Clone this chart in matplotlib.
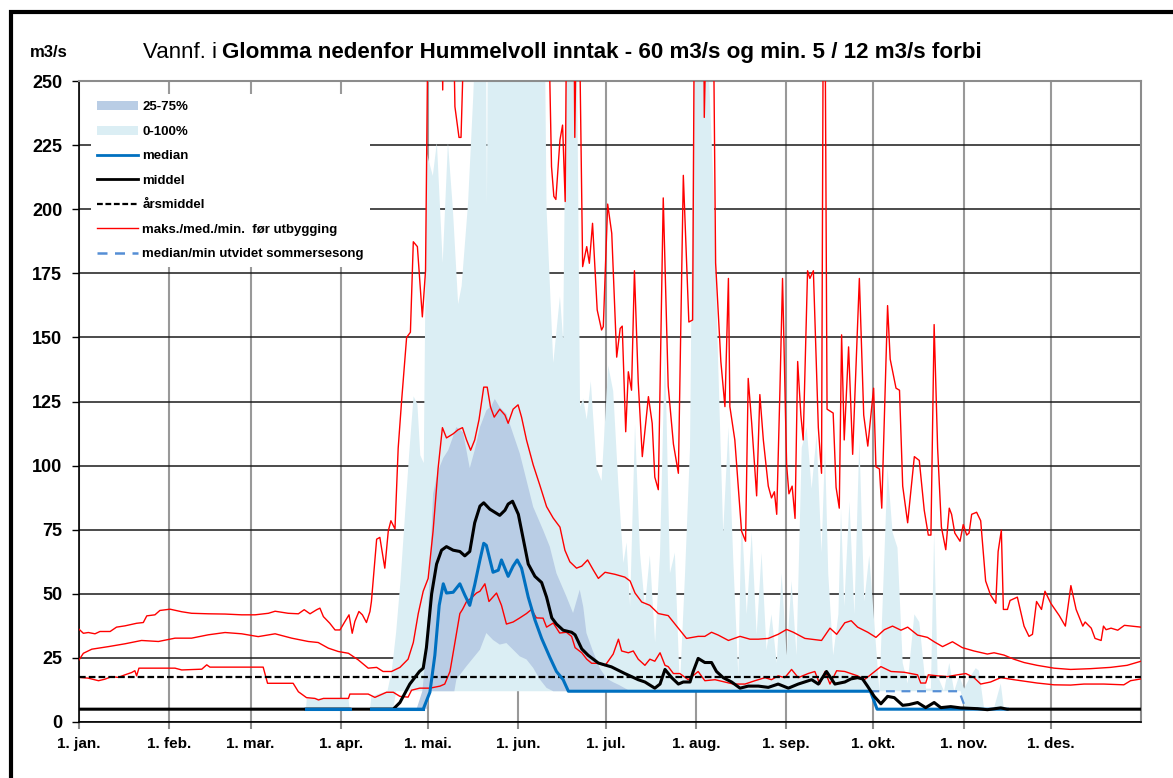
import numpy as np
import matplotlib.pyplot as plt
from matplotlib.patches import Patch, Rectangle
from matplotlib.lines import Line2D

plt.rcParams['font.family'] = ['Liberation Sans', 'DejaVu Sans']

# x = day of year (0 = 1. jan.), y = m3/s
month_days = [0, 31, 59, 90, 120, 151, 181, 212, 243, 273, 304, 334]
month_labels = ['1. jan.', '1. feb.', '1. mar.', '1. apr.', '1. mai.', '1. jun.',
                '1. jul.', '1. aug.', '1. sep.', '1. okt.', '1. nov.', '1. des.']
y_ticks = [0, 25, 50, 75, 100, 125, 150, 175, 200, 225, 250]

aarsmiddel = 17.5

# 0-100 % band, two spans (spring patch + main season)
q100_a = np.array([(78, 5), (78.3, 9.2), (92.6, 9.2), (93, 5)])
q0_a = np.array([(78, 5), (93, 5)])
q100_b = np.array([
    (100, 5), (100.5, 10), (103, 11), (106, 12), (107.5, 20), (109, 35), (110.5, 55),
    (112, 80), (113.5, 105), (115, 127), (116.3, 124), (117.3, 104), (118.5, 101),
    (119.5, 222), (121.6, 213), (123, 226), (125, 179), (126.8, 226), (128.5, 200),
    (130.3, 163), (131.5, 170), (133.7, 202), (135.5, 244), (136.7, 280), (139.8, 280),
    (140.2, 201), (140.6, 280), (160, 280), (160.7, 200), (163, 140), (165.3, 166),
    (166.4, 149), (167.6, 280), (171, 280), (172.2, 123), (173.3, 126), (174.5, 118),
    (175.9, 133), (177.9, 99), (179.6, 94), (181.9, 139), (183.6, 129), (185.4, 92),
    (187.1, 62), (188.2, 70), (189.4, 45), (191.1, 116), (192.8, 66), (194.5, 45),
    (196.2, 65), (198, 31), (199.7, 66), (201.4, 147), (203.1, 58), (204.8, 66),
    (206.5, 13), (208.3, 58), (210, 107), (211.5, 280), (214.5, 280), (215, 235),
    (215.5, 280), (218, 211), (219.7, 139), (221.4, 74), (223.2, 115), (224.9, 62),
    (226.6, 18), (227.7, 81), (229.5, 42), (231.2, 74), (232.9, 34), (234.6, 66),
    (236.3, 28), (238, 42), (239.8, 23), (241.5, 58), (243.2, 26), (244.9, 55),
    (246.6, 26), (248.4, 107), (250.1, 115), (251.8, 91), (253.5, 112), (255.2, 66),
    (256.4, 107), (257.5, 58), (259.2, 26), (261, 42), (261.9, 83), (263, 45),
    (264.8, 86), (266.5, 42), (268.2, 110), (269.9, 47), (271.6, 65), (273.3, 39),
    (275.1, 12), (277.9, 99), (279.6, 74), (281.3, 68), (283.1, 23), (284.8, 15),
    (287.1, 42), (288.8, 39), (291.1, 13), (292.8, 13), (293.9, 74), (295.1, 18),
    (297.3, 12), (299.1, 23), (300.8, 12), (302.5, 18), (304.2, 13), (306.5, 18),
    (308.2, 21), (309.3, 20), (311.1, 5), (314.5, 5.5), (316.8, 15), (317.9, 5), (319, 5)])
q0_b = np.array([(100, 5), (108, 5), (109, 12), (303, 12), (304.5, 5), (319, 5)])

# 25-75 % band
q75 = np.array([
    (116, 5), (118, 12), (119.5, 30), (120.6, 60), (121.7, 89), (123.4, 98), (125.2, 103),
    (126.9, 106), (129.7, 115), (132, 113), (134.3, 99), (136, 106), (137.8, 115),
    (140, 121.5), (141.8, 123.4), (142.9, 126), (144.6, 122.8), (146.9, 120.2),
    (149.2, 112.4), (151.5, 104.7), (153.8, 94.3), (156.1, 83.9), (159.5, 74.9),
    (161.8, 68.4), (164.1, 58), (167.5, 49), (169.8, 42.5), (172.1, 51.6), (173.3, 45),
    (174.4, 34.7), (176.5, 28), (179, 21), (181.3, 17), (183.6, 15.5), (185.5, 14.5),
    (189.5, 12)])
q25 = np.array([
    (116, 5), (119.5, 5), (120.5, 12), (129, 12), (129.7, 16.6), (133.2, 21.8),
    (137.8, 28.2), (140, 34.7), (142.3, 32), (144.6, 30.2), (146.9, 30.8), (149.2, 28.2),
    (151.5, 25.6), (153.8, 24.4), (156.1, 21.1), (158.4, 16.6), (160.7, 13.3), (163, 12),
    (189.5, 12)])

median = np.array([
    (78, 5), (93, 5), (96, np.nan), (100.5, 5), (118.3, 5), (120.6, 11.6), (122.3, 26),
    (123.8, 45.5), (125.2, 53.9), (126.3, 50.3), (128.6, 50.6), (130.9, 53.9),
    (132.6, 49.5), (134.3, 45.5), (136, 53.5), (137.8, 63.2), (139.1, 69.7), (140, 68.9),
    (142.3, 58.4), (144.1, 59.2), (145.2, 63.2), (147.5, 56.8), (149.2, 60.8),
    (150.6, 63.2), (152.1, 60), (154.4, 48.7), (156.7, 39.8), (159, 32.6), (161.8, 25.3),
    (164.1, 19.7), (166.4, 16.5), (168.2, 12), (272, 12), (274.3, 5), (319, 5)])

utvidet = np.array([(272, 12), (302.5, 12), (304.8, 5)])

middel = np.array([
    (0, 5), (108, 5), (110.3, 7.6), (113.7, 14.8), (117, 19.7), (118.3, 21), (119.4, 29),
    (121.2, 50), (122.9, 61.6), (124.6, 67), (126.3, 68.4), (128.6, 67), (130.9, 66.5),
    (132.6, 64.8), (134.3, 66.5), (136, 77.7), (137.8, 84.2), (139.1, 85.5), (141.2, 83),
    (144.6, 80.6), (146.4, 82.6), (147.5, 85), (149, 86.1), (151, 81), (152.7, 71.3),
    (154.4, 61.6), (156.7, 56.8), (159, 54.4), (160.7, 48.7), (162.5, 40.6),
    (164.1, 38.2), (166.4, 35.8), (169.3, 35), (170.5, 34), (172.8, 28.5), (175, 26),
    (178.5, 23), (183, 21.5), (187.6, 18.9), (192.2, 16.5), (194.5, 15.6), (197.9, 13.2),
    (199.7, 14.8), (201.4, 20.5), (203.7, 17.3), (206, 14.8), (207.7, 15.6), (210, 15.6),
    (211.1, 19.7), (212.8, 24.8), (215.1, 23.2), (217.4, 23.2), (219.1, 19.7),
    (221.4, 17.3), (224.3, 15.6), (227.2, 13.2), (230, 14), (233.5, 14), (236.9, 13.5),
    (240.3, 14.8), (243.8, 13.2), (247.2, 14.8), (251.8, 16.5), (254.1, 14.8),
    (256.9, 19.7), (259.8, 14.8), (263.2, 15.6), (265.3, 16.8), (267.6, 17.3),
    (269.3, 16.8), (271, 14), (273.3, 10), (275.6, 7.1), (277.9, 10), (280.2, 9.5),
    (283.1, 6.5), (285.3, 6.8), (288.2, 7.6), (291, 5.6), (293.9, 7.6), (296.2, 5.6),
    (299.6, 6), (303, 5.5), (308.8, 5.2), (312.2, 4.8), (316.8, 5.5), (319, 5), (365, 5)])

# before regulation: max / median / min
foer_maks = np.array([
    (0, 36.2), (1.5, 34.6), (3.2, 34.9), (5.5, 34.4), (7.2, 35.3), (10.7, 35.3), (12.9, 37),
    (15.8, 37.5), (19.8, 38.5), (22.1, 38.8), (23.3, 41.4), (26.1, 41.8), (27.8, 43.5),
    (31.3, 44), (35.3, 43), (38.7, 42.4), (44.4, 42.2), (50.2, 42.1), (55.9, 41.8),
    (60.5, 41.8), (65.1, 42.4), (67.4, 43.2), (71.9, 42.4), (75.4, 42.2), (77.4, 43.8),
    (79.4, 42.2), (81.7, 43.8), (82.8, 44.4), (84, 41.1), (86.2, 38.5), (88, 35.9),
    (89.7, 35.9), (91.4, 39.2), (92.8, 41.8), (93.9, 34.6), (94.8, 39.2), (96.2, 43.1),
    (97.4, 41.8), (98.8, 38.8), (100, 43.1), (100.5, 47), (102.3, 71.3), (103.4, 72),
    (105.1, 60), (106.3, 74.5), (107.2, 78.5), (108.6, 75.3), (109.7, 106.8),
    (110.9, 125.6), (112.6, 150), (113.9, 152), (114.9, 187.3), (116.3, 185.4),
    (118, 158), (119.1, 176), (120, 280), (124.7, 280), (125, 246.5), (125.3, 280),
    (128.6, 280), (129.2, 240), (130.6, 228), (131.3, 228), (132.6, 280), (161.3, 280),
    (162.4, 216.6), (163.2, 205), (163.9, 203.8), (165.3, 227), (166.2, 232.8),
    (167.1, 203), (167.6, 280), (170.1, 280), (170.4, 228), (171, 280), (171.9, 280),
    (173.1, 177.6), (174.5, 185.4), (175.4, 178.9), (176.5, 194.5), (178.1, 160.7),
    (179.6, 152.9), (180.2, 154.2), (181.7, 202), (183.1, 190.6), (184.8, 142.3),
    (186, 153.5), (186.7, 154.4), (187.9, 113.2), (188.8, 136.6), (189.9, 129.4),
    (190.9, 176), (192.2, 132.6), (193.6, 103.5), (195.7, 126.9), (197, 116.5),
    (197.9, 95.5), (199.1, 90.6), (200.8, 204.4), (202.5, 131), (204.3, 108.4),
    (206, 97), (207.7, 213.2), (209.6, 156), (210.9, 156.8), (211.5, 280), (214.7, 280),
    (214.9, 235.8), (215.7, 280), (218, 280), (218.8, 179), (220.6, 140.6), (222, 123),
    (223.2, 173), (223.7, 123), (225.4, 110), (227.7, 74.5), (229.1, 70.5), (230, 134),
    (231.2, 116.5), (232.9, 88.2), (234, 127.7), (235.2, 110), (236.9, 92), (238, 87.4),
    (239, 89.8), (239.8, 81), (240.9, 129.4), (241.8, 173), (243.2, 100.3), (244, 89),
    (245.1, 92), (246.1, 79.4), (247, 140.6), (248.1, 119.7), (248.9, 110),
    (250.4, 176), (251.2, 173), (252.4, 176), (254.1, 114.8), (255.2, 97), (255.8, 280),
    (256.4, 280), (257.1, 122), (259.2, 120.5), (260.2, 91.5), (261.3, 83.4),
    (262.1, 151), (263, 110), (264.5, 146.3), (265.9, 104.4), (268.2, 173),
    (269.7, 119.7), (271.1, 107.6), (273.1, 130.2), (273.9, 99.5), (275.1, 98.7),
    (275.9, 83.4), (277.9, 162.4), (278.8, 141.5), (280.8, 130.2), (282, 129.4),
    (283.1, 92), (284.8, 77.7), (287.1, 103.5), (288.8, 102), (290.5, 82.6),
    (291.9, 72.9), (292.8, 72.9), (293.9, 155), (295.1, 106.8), (296.4, 76),
    (297.9, 67.2), (299.1, 83.4), (299.9, 81), (301, 73.7), (302.8, 70.5), (303.9, 77),
    (305.1, 72.9), (305.9, 73.7), (306.8, 81), (308.5, 81.8), (309.9, 78.5),
    (311.6, 55), (313.3, 49.5), (315.1, 46.3), (315.9, 66.5), (317, 74.8),
    (317.7, 43.9), (319.1, 43.9), (320, 47.4), (322.5, 48.7), (324.8, 37.4),
    (326.5, 33.4), (327.7, 34.2), (329.1, 47), (330.8, 43.9), (332, 51), (334, 46.3),
    (336.9, 41.5), (339, 37.4), (340.9, 53.2), (342.7, 43.9), (345, 37.4), (345.8, 39),
    (347.9, 36.6), (349.2, 32.6), (351.3, 31.8), (352.1, 37.4), (353, 36),
    (354.7, 36.6), (357, 35.8), (359.3, 37.7), (361.6, 37.4), (365, 37)])

foer_med = np.array([
    (0, 24.2), (1.5, 26.8), (4.4, 28.4), (10.1, 29.4), (15.8, 30.5), (21.5, 31.8),
    (27.3, 31.4), (33, 32.7), (38.7, 32.7), (44.4, 34), (50.2, 34.9), (55.9, 34.4),
    (61.6, 33.3), (67.4, 34.4), (73.1, 32.7), (78.8, 31.4), (82.2, 31), (85.7, 28.8),
    (89.1, 27.5), (92.6, 26.8), (96, 24.2), (99.4, 21), (102.3, 21.3), (104.5, 19.7),
    (107.4, 19.7), (110.3, 21.3), (113.1, 24.5), (114.9, 31), (116.6, 42.3), (118.3, 51),
    (120, 56), (121.7, 74.5), (123.4, 98.7), (124.9, 114.8), (126.3, 110.8),
    (128.6, 112.4), (130.3, 114), (131.8, 114.8), (133.2, 110), (134.6, 106), (136, 110),
    (137.5, 118), (139.1, 130.6), (140.3, 130.6), (141.4, 123), (142.7, 118.9),
    (144.6, 122), (146.4, 119.7), (147.5, 116.5), (149.2, 122), (150.9, 123.7),
    (152.1, 118.9), (153.8, 110), (156.1, 100.3), (158.4, 92.3), (160.7, 84),
    (163, 79.5), (165.3, 76), (167, 67), (168.7, 62.5), (171, 60), (172.8, 60.8),
    (174.8, 63.2), (176.8, 59.2), (178.5, 56), (180.8, 58.4), (184.2, 57.6),
    (187.6, 56.5), (189.4, 55), (191.1, 50.3), (193.4, 46.8), (196.2, 45.5),
    (199.1, 42.3), (202.5, 41.5), (205.4, 37.4), (208.8, 32.6), (212.8, 33.4),
    (215.1, 33.4), (217.4, 35), (219.7, 33.9), (223.2, 31.8), (227.2, 33.4),
    (230.6, 32.3), (233.5, 32.3), (236.9, 32.6), (240.3, 34.2), (243.2, 36.1),
    (245.5, 35), (249.5, 32.6), (255.2, 31.8), (258.1, 36.6), (260.4, 34.2),
    (263.2, 38.7), (265.4, 39.5), (267.6, 37), (271.1, 35), (273.9, 33), (276.8, 36),
    (279.6, 37.4), (282.5, 35.8), (284.8, 37), (288.2, 33.9), (291.6, 33), (293.9, 31.3),
    (296.8, 29.4), (300.2, 31.3), (303.6, 29), (307.6, 27.7), (312.2, 26.5), (314.5, 27),
    (317.9, 26.1), (321.3, 24.5), (324.8, 23.2), (329.3, 22.1), (335.1, 21),
    (340.8, 20.5), (347.6, 20.8), (354.5, 21.3), (360.2, 22.1), (365, 23.7)])

foer_min = np.array([
    (0, 17.4), (3.2, 17.1), (6.7, 16.1), (8.9, 16.7), (11.2, 17.7), (13.5, 17.4),
    (15.8, 18.4), (18.1, 19.3), (19.2, 20), (19.8, 18), (20.6, 21), (33, 21),
    (35.3, 20.3), (42.2, 20.6), (43.9, 22.3), (45, 21.4), (63.3, 21.4), (64.8, 15.1),
    (73.6, 15.1), (75.4, 11.8), (78.2, 9.5), (81.1, 9.2), (82.3, 8.6), (84, 9.2),
    (92.6, 9.2), (93.1, 10.9), (99.4, 10.9), (101.7, 9.6), (105.7, 11.6), (108, 11.6),
    (110.3, 10), (113.1, 9.7), (114.3, 12.4), (117.1, 13.2), (120.6, 13.2), (124.1, 14),
    (125.7, 14.8), (127.5, 19.7), (129.2, 31), (130.9, 42.3), (131.8, 43.9),
    (133.2, 47), (134.9, 48.4), (136.6, 50.3), (137.8, 51), (139.5, 53.9), (140.9, 47),
    (143.5, 50.3), (145.2, 45.5), (146.9, 38.2), (149.2, 39), (151.5, 40.6),
    (153.8, 42.3), (155.5, 43.9), (157.2, 40.6), (159.5, 40.5), (160.7, 37),
    (163, 38.6), (165.2, 34.7), (167.5, 35), (169.3, 33.4), (170.5, 29), (172.8, 27),
    (174.5, 24.5), (176.2, 22.9), (178.5, 22.9), (180.8, 22), (183.6, 26.5),
    (185.4, 32.3), (186.5, 27.7), (188.8, 27), (190.5, 27.7), (192.2, 24.5),
    (194.5, 22.1), (196.2, 24.5), (197.9, 23.7), (199.7, 27), (201.4, 22.1),
    (202.5, 21.6), (204.3, 18.9), (206.5, 18.9), (209.4, 16.5), (212.8, 19.7),
    (215.1, 16.1), (218.6, 16.5), (222, 15.6), (224.9, 14.8), (228.9, 14.8),
    (232.3, 16.1), (235.8, 17.3), (238, 16.5), (240.3, 18), (242.6, 17.3),
    (244.9, 20.5), (247.2, 17.3), (250.6, 18.9), (252.9, 19.7), (254.6, 14.8),
    (256.4, 19.7), (258.1, 14.8), (260.4, 20), (263.2, 19.7), (267.6, 18),
    (269.9, 16.5), (271.6, 18), (275.6, 21.6), (279.1, 19.7), (283.6, 19.4),
    (288.2, 18.4), (289.3, 15.2), (291, 15.2), (291.9, 18.4), (295.1, 18), (298.5, 17.7),
    (301.9, 18.4), (304.8, 18.9), (307.6, 17.3), (309.9, 14.8), (313.3, 15.6),
    (316.8, 17.3), (321.3, 16.5), (329.3, 15.2), (335.1, 14.5), (340.8, 14.4),
    (345.4, 14.8), (352.2, 14.8), (359.1, 14.5), (361.4, 16.1), (365, 16.8)])

c_light = '#dbeef4'
c_dark = '#b9cde5'
c_median = '#0070c0'
c_utvidet = '#558ed5'


def band(ax, hi, lo, color, z):
    xs = np.r_[hi[:, 0], lo[::-1, 0]]
    ys = np.r_[hi[:, 1], lo[::-1, 1]]
    ax.fill(xs, ys, color=color, lw=0, zorder=z)


fig = plt.figure(figsize=(11.73, 7.78), dpi=100)
ax = fig.add_axes([79 / 1173, 56 / 778, 1062 / 1173, 641 / 778])

band(ax, q100_a, q0_a, c_light, 1)
band(ax, q100_b, q0_b, c_light, 1)
band(ax, q75, q25, c_dark, 2)

ax.plot(foer_maks[:, 0], foer_maks[:, 1], color='red', lw=1.0, zorder=3)
ax.plot(foer_med[:, 0], foer_med[:, 1], color='red', lw=1.0, zorder=3)
ax.plot(foer_min[:, 0], foer_min[:, 1], color='red', lw=1.0, zorder=3)

ax.axhline(aarsmiddel, color='black', lw=1.6, ls=(0, (3, 1.4)), zorder=4)
ax.plot(utvidet[:, 0], utvidet[:, 1], color=c_utvidet, lw=1.6, ls=(0, (4, 3)), zorder=4)

ax.plot(median[:, 0], median[:, 1], color=c_median, lw=2.2, zorder=5)
ax.plot(middel[:, 0], middel[:, 1], color='black', lw=2.2, zorder=6)
spring = median[:, 0] < 119
ax.plot(median[spring, 0], median[spring, 1], color=c_median, lw=2.2, zorder=7)

ax.set_xlim(0, 365)
ax.set_ylim(0, 250)
ax.set_xticks(month_days)
ax.set_xticklabels(month_labels, fontsize=11, fontweight='bold')
ax.set_yticks(y_ticks)
ax.set_yticklabels([str(v) for v in y_ticks], fontsize=13, fontweight='bold')
ax.tick_params(axis='x', length=5, width=1.5, color='#8c8c8c', pad=6)
ax.tick_params(axis='y', length=5, width=1, color='black', pad=7)

ax.set_axisbelow(True)
ax.grid(axis='y', color='#1a1a1a', lw=1.1)
ax.grid(axis='x', color='#999999', lw=1.5)
for s in ['top', 'right']:
    ax.spines[s].set_color('#8c8c8c')
    ax.spines[s].set_linewidth(1.5)
for s in ['left', 'bottom']:
    ax.spines[s].set_color('black')
    ax.spines[s].set_linewidth(1.2)

handles = [
    Patch(facecolor=c_dark, edgecolor='none'),
    Patch(facecolor=c_light, edgecolor='none'),
    Line2D([], [], color=c_median, lw=2.0),
    Line2D([], [], color='black', lw=2.0),
    Line2D([], [], color='black', lw=1.6, ls=(0, (2.6, 1.2))),
    Line2D([], [], color='red', lw=1.0),
    Line2D([], [], color=c_utvidet, lw=1.8, ls=(0, (4, 3))),
]
labels = ['25-75%', '0-100%', 'median', 'middel', 'årsmiddel',
          'maks./med./min.  før utbygging', 'median/min utvidet sommersesong']
leg = ax.legend(handles, labels, loc='upper left', bbox_to_anchor=(0.011, 0.979),
                borderaxespad=0, frameon=True, fancybox=False, framealpha=1,
                edgecolor='none', facecolor='white', prop={'size': 9.5, 'weight': 'bold'},
                handlelength=3.1, handleheight=0.7, handletextpad=0.3,
                labelspacing=0.93, borderpad=0.5)
leg.set_zorder(10)

fig.text(30 / 1173, 1 - 57 / 778, 'm3/s', fontsize=12, fontweight='bold', va='baseline')
t1 = fig.text(143 / 1173, 1 - 58 / 778, 'Vannf. i', fontsize=16, va='baseline')
fig.canvas.draw()
bb = t1.get_window_extent()
fig.text((bb.x1 + 5) / 1173, 1 - 58 / 778,
         'Glomma nedenfor Hummelvoll inntak - 60 m3/s og min. 5 / 12 m3/s forbi',
         fontsize=16.1, fontweight='bold', va='baseline')

fig.patches.append(Rectangle((10.5 / 1173, -0.5), 2, 0.5 + 1 - 11.5 / 778,
                             transform=fig.transFigure, fill=False,
                             lw=3, ec='black', clip_on=False))

fig.savefig('out.png', dpi=100)
